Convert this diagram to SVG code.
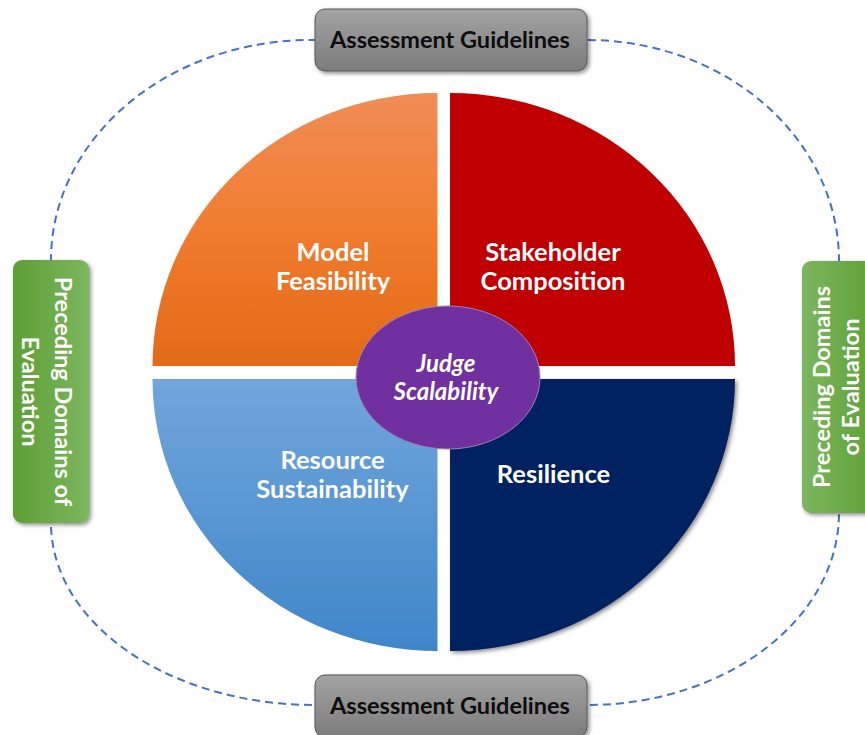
<svg xmlns="http://www.w3.org/2000/svg" width="865" height="735" viewBox="0 0 865 735">
  <style>
    .lbl { font-family: Lato, "Open Sans", "Liberation Sans", sans-serif; font-weight: bold; fill: #ffffff; text-anchor: middle; }
    .q { font-size: 25.5px; }
    .center { font-size: 24px; font-style: italic; }
    .guide { font-family: Lato, "Open Sans", "Liberation Sans", sans-serif; font-weight: bold; font-size: 23.5px; fill: #0d0d0d; text-anchor: middle; }
    .side { font-size: 23.5px; }
    .ring { fill: none; stroke: #4472C4; stroke-width: 2; stroke-dasharray: 8 5; }
  </style>
  <defs>
    <linearGradient id="gOrange" x1="0" y1="0" x2="0" y2="1">
      <stop offset="0" stop-color="#F08D56"/>
      <stop offset="0.5" stop-color="#F17C2E"/>
      <stop offset="1" stop-color="#E36A17"/>
    </linearGradient>
    <linearGradient id="gBlue" x1="0" y1="0" x2="0" y2="1">
      <stop offset="0" stop-color="#71A6DC"/>
      <stop offset="1" stop-color="#3F86C9"/>
    </linearGradient>
    <linearGradient id="gGray" x1="0" y1="0" x2="0" y2="1">
      <stop offset="0" stop-color="#A3A3A3"/>
      <stop offset="1" stop-color="#7C7C7C"/>
    </linearGradient>
    <linearGradient id="gGreenL" x1="0" y1="0" x2="1" y2="0">
      <stop offset="0" stop-color="#5E9F35"/>
      <stop offset="1" stop-color="#7CB65E"/>
    </linearGradient>
    <linearGradient id="gGreenR" x1="1" y1="0" x2="0" y2="0">
      <stop offset="0" stop-color="#5E9F35"/>
      <stop offset="1" stop-color="#7CB65E"/>
    </linearGradient>
    <filter id="shadow" x="-20%" y="-20%" width="140%" height="140%">
      <feGaussianBlur in="SourceAlpha" stdDeviation="2"/>
      <feOffset dx="1.5" dy="2" result="b"/>
      <feComponentTransfer><feFuncA type="linear" slope="0.45"/></feComponentTransfer>
      <feMerge><feMergeNode/><feMergeNode in="SourceGraphic"/></feMerge>
    </filter>
  </defs>

  <rect width="865" height="735" fill="#ffffff"/>

  <g id="connectors">
    <path class="ring" d="M 315 40 L 587 40 A 252 221 0 0 1 839 261 L 839 513 A 252 192 0 0 1 587 705 L 315 705 A 264 182 0 0 1 51 523 L 51 260 A 260 220 0 0 1 315 40 Z"/>
  </g>

  <g id="model-feasibility">
    <path d="M 437.5 366 H 152.5 A 285 273 0 0 1 437.5 93 Z" fill="url(#gOrange)"/>
    <text class="lbl q" x="333" y="261">Model</text>
    <text class="lbl q" x="333" y="290">Feasibility</text>
  </g>

  <g id="stakeholder-composition">
    <path d="M 450 366 V 93 A 285 273 0 0 1 735 366 Z" fill="#C00000"/>
    <text class="lbl q" x="553" y="261">Stakeholder</text>
    <text class="lbl q" x="553" y="290">Composition</text>
  </g>

  <g id="resource-sustainability">
    <path d="M 437.5 379 V 651 A 285 272 0 0 1 152.5 379 Z" fill="url(#gBlue)"/>
    <text class="lbl q" x="332.5" y="469">Resource</text>
    <text class="lbl q" x="332.5" y="498">Sustainability</text>
  </g>

  <g id="resilience">
    <path d="M 450 379 H 735 A 285 272 0 0 1 450 651 Z" fill="#002060" filter="url(#shadow)"/>
    <text class="lbl q" x="553.5" y="483">Resilience</text>
  </g>

  <g id="judge-scalability">
    <ellipse cx="448" cy="377.5" rx="92" ry="71.5" fill="#7030A0" stroke="#9B82B6" stroke-width="1"/>
    <text class="lbl center" x="446" y="372">Judge</text>
    <text class="lbl center" x="446" y="400">Scalability</text>
  </g>

  <g id="assessment-top">
    <rect x="315" y="9" width="272" height="62" rx="10" fill="url(#gGray)" stroke="#595959" stroke-width="1" filter="url(#shadow)"/>
    <text class="guide" x="450" y="48">Assessment Guidelines</text>
  </g>

  <g id="assessment-bottom">
    <rect x="315" y="675" width="272" height="62" rx="10" fill="url(#gGray)" stroke="#595959" stroke-width="1" filter="url(#shadow)"/>
    <text class="guide" x="450" y="714">Assessment Guidelines</text>
  </g>

  <g id="preceding-left">
    <rect x="13" y="260" width="76" height="263" rx="9" fill="url(#gGreenL)" filter="url(#shadow)"/>
    <g transform="translate(51,391.5) rotate(90)">
      <text class="lbl side" x="0" y="-4">Preceding Domains of</text>
      <text class="lbl side" x="0" y="29">Evaluation</text>
    </g>
  </g>

  <g id="preceding-right">
    <rect x="802" y="261" width="78" height="252" rx="9" fill="url(#gGreenR)" filter="url(#shadow)"/>
    <g transform="translate(840,387) rotate(-90)">
      <text class="lbl side" x="0" y="-10">Preceding Domains</text>
      <text class="lbl side" x="0" y="19">of Evaluation</text>
    </g>
  </g>
</svg>
